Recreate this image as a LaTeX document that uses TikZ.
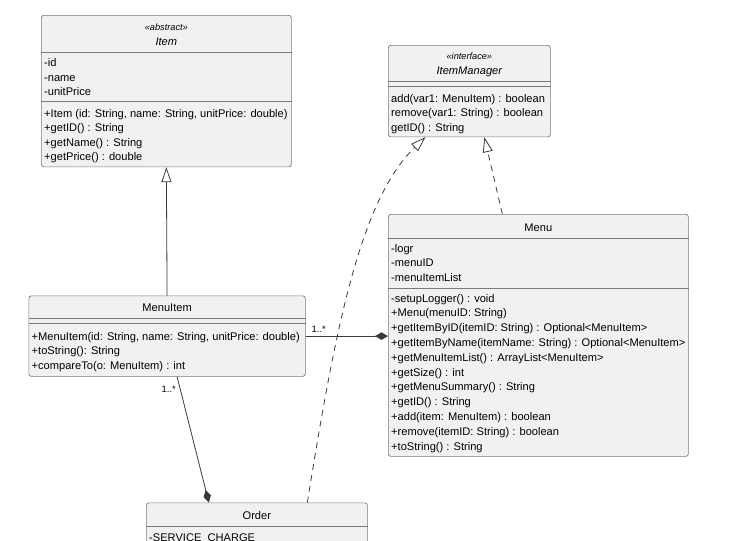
\documentclass[tikz,border=0pt]{standalone}
\usepackage{fontspec}
\setmainfont{Liberation Sans}
\usetikzlibrary{arrows.meta,calc}
\definecolor{boxfill}{HTML}{F1F1F1}
\definecolor{boxline}{HTML}{7A7A7A}
\definecolor{wire}{HTML}{3A3A3A}
\begin{document}
\begin{tikzpicture}[x=1pt,y=-1pt,
  classbox/.style={draw=boxline, fill=boxfill, rounded corners=2.5pt, line width=0.7pt, inner sep=0pt, anchor=north west},
  txt/.style={anchor=base west, inner sep=0pt, font=\fontsize{11.1}{13}\selectfont},
  ttl/.style={anchor=base, inner sep=0pt, font=\fontsize{11.1}{13}\selectfont},
  stereo/.style={anchor=base, inner sep=0pt, font=\fontsize{9.2}{11}\selectfont\itshape},
  lbl/.style={anchor=base west, inner sep=0pt, font=\fontsize{9.4}{11}\selectfont},
  sepline/.style={draw=boxline, line width=0.7pt},
  wire/.style={draw=wire, line width=0.8pt},
  gen/.style={wire, -{Triangle[open, length=15pt, width=10pt, fill=white]}},
  realize/.style={wire, dash pattern=on 6pt off 5pt, -{Triangle[open, length=15pt, width=10pt, fill=white]}},
  comp/.style={wire, -{Diamond[length=13pt, width=7.5pt]}}
]
\useasboundingbox (0,0) rectangle (729,541);

% ---------- Item ----------
\node[classbox, minimum width=250pt, minimum height=151.5pt] (item) at (41,15) {};
\node[stereo] (item-s) at (item.north |- 0,30) {«abstract»};
\node[ttl, font=\fontsize{11.1}{13}\selectfont\itshape] (item-t) at (item.north |- 0,45.5) {Item};
\draw[sepline] (item.west |- 0,52) -- (item.east |- 0,52);
\foreach \t [count=\i from 0] in {{-id},{-name},{-unitPrice}}
  \node[txt] (item-a\i) at (44, 66.5+14.6*\i) {\t};
\draw[sepline] (item.west |- 0,101) -- (item.east |- 0,101);
\foreach \t [count=\i from 0] in {{+Item (id: String, name: String, unitPrice: double)},{+getID() : String},{+getName() : String},{+getPrice() : double}}
  \node[txt] (item-m\i) at (44, 117+14.6*\i) {\t};

% ---------- ItemManager ----------
\node[classbox, minimum width=162pt, minimum height=91.5pt] (imgr) at (388,45) {};
\node[stereo] (imgr-s) at (imgr.north |- 0,59.5) {«interface»};
\node[ttl, font=\fontsize{11.1}{13}\selectfont\itshape] (imgr-t) at (imgr.north |- 0,74.5) {ItemManager};
\draw[sepline] (imgr.west |- 0,81.5) -- (imgr.east |- 0,81.5);
\draw[sepline] (imgr.west |- 0,86.5) -- (imgr.east |- 0,86.5);
\foreach \t [count=\i from 0] in {{add(var1: MenuItem) : boolean},{remove(var1: String) : boolean},{getID() : String}}
  \node[txt] (imgr-m\i) at (391, 102+14.6*\i) {\t};

% ---------- Menu ----------
\node[classbox, minimum width=300pt, minimum height=242pt] (menu) at (388,214) {};
\node[ttl] (menu-t) at (menu.north |- 0,231) {Menu};
\draw[sepline] (menu.west |- 0,238.5) -- (menu.east |- 0,238.5);
\foreach \t [count=\i from 0] in {{-logr},{-menuID},{-menuItemList}}
  \node[txt] (menu-a\i) at (391, 252+14.8*\i) {\t};
\draw[sepline] (menu.west |- 0,288) -- (menu.east |- 0,288);
\foreach \t [count=\i from 0] in {{-setupLogger() : void},{+Menu(menuID: String)},{+getItemByID(itemID: String) : Optional<MenuItem>},{+getItemByName(itemName: String) : Optional<MenuItem>},{+getMenuItemList() : ArrayList<MenuItem>},{+getSize() : int},{+getMenuSummary() : String},{+getID() : String},{+add(item: MenuItem) : boolean},{+remove(itemID: String) : boolean},{+toString() : String}}
  \node[txt] (menu-m\i) at (391, 302+14.8*\i) {\t};

% ---------- MenuItem ----------
\node[classbox, minimum width=276.5pt, minimum height=80.5pt] (menuitem) at (28.5,295.5) {};
\node[ttl] (menuitem-t) at (menuitem.north |- 0,311) {MenuItem};
\draw[sepline] (menuitem.west |- 0,318.5) -- (menuitem.east |- 0,318.5);
\draw[sepline] (menuitem.west |- 0,323.5) -- (menuitem.east |- 0,323.5);
\foreach \t [count=\i from 0] in {{+MenuItem(id: String, name: String, unitPrice: double)},{+toString(): String},{+compareTo(o: MenuItem) : int}}
  \node[txt] (menuitem-m\i) at (31.5, 340+14.8*\i) {\t};

% ---------- Order ----------
\node[classbox, minimum width=221pt, minimum height=60pt] (order) at (146,502.5) {};
\node[ttl] (order-t) at (order.north |- 0,519) {Order};
\draw[sepline] (order.west |- 0,526.5) -- (order.east |- 0,526.5);
\node[txt] (order-a0) at (149, 541.5) {-SERVICE\_CHARGE};

% ---------- connectors ----------
\draw[gen] (menuitem.north) -- (item.south);
\draw[realize] ($(menu.north)+(-36,0)$) -- ($(imgr.south)+(15,0)$);
\draw[realize] ($(order.north)+(50.5,0)$) .. controls (335,330) and (360,200) .. ($(imgr.south)+(-44,0)$);
\draw[comp] (menuitem.east) -- (menuitem.east -| menu.west);
\node[lbl] (lab1) at (311.5,332.5) {1..*};
\draw[comp] ($(menuitem.south)+(10,0)$) -- ($(order.north)+(-48,0)$);
\node[lbl] (lab2) at (161.5,392.5) {1..*};
\end{tikzpicture}
\end{document}
